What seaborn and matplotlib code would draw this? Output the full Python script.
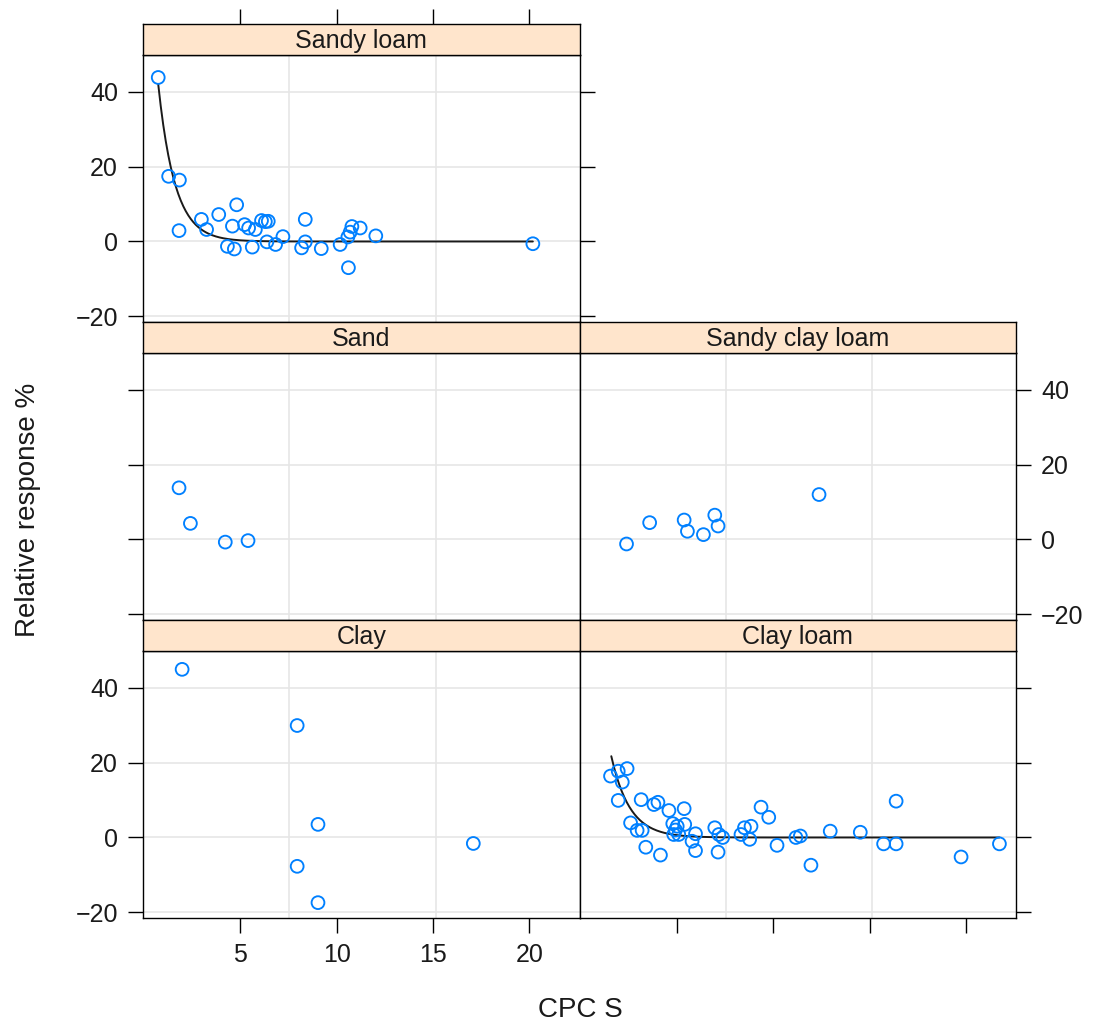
import numpy as np
import matplotlib
matplotlib.use("Agg")
import matplotlib.pyplot as plt
import seaborn as sns

# Data (CPC S vs relative response %)
sandy_loam_x = [0.74, 1.28, 1.84, 1.82, 2.98, 3.25, 3.88, 4.81, 4.59, 4.33, 4.69,
                5.22, 5.43, 5.78, 5.62, 6.10, 6.30, 6.45, 6.38, 6.83, 7.21, 8.37,
                8.18, 8.37, 9.20, 10.18, 10.61, 10.58, 10.70, 10.79, 11.22, 12.03, 20.18]
sandy_loam_y = [43.8, 17.4, 16.4, 2.9, 5.9, 3.2, 7.2, 9.8, 4.1, -1.3, -2.0,
                4.5, 3.6, 3.2, -1.5, 5.6, 5.3, 5.4, -0.1, -0.8, 1.3, 5.9,
                -1.7, -0.1, -1.9, -0.8, -7.0, 1.2, 2.5, 4.0, 3.6, 1.5, -0.6]

sand_x = [1.82, 2.41, 4.22, 5.40]
sand_y = [13.8, 4.3, -0.7, -0.3]

sandy_clay_loam_x = [2.39, 3.59, 5.38, 5.55, 6.38, 6.97, 7.14, 12.38]
sandy_clay_loam_y = [-1.2, 4.5, 5.2, 2.2, 1.3, 6.5, 3.6, 12.0]

clay_x = [1.98, 7.95, 9.03, 7.95, 9.03, 17.09]
clay_y = [44.9, 29.9, 3.5, -7.7, -17.4, -1.6]

clay_loam_x = [1.56, 1.96, 2.42, 2.17, 1.96, 2.60, 2.94, 3.20, 3.15, 3.81, 4.02,
               3.39, 4.15, 4.59, 5.38, 4.79, 5.02, 4.93, 5.10, 4.84, 5.41, 5.97,
               5.79, 5.97, 6.97, 7.18, 7.38, 7.14, 8.33, 8.51, 8.85, 8.78, 9.37,
               9.77, 10.20, 11.18, 11.41, 11.96, 12.96, 14.52, 15.73, 16.38, 16.38,
               19.75, 21.74]
clay_loam_y = [16.4, 17.7, 18.4, 14.8, 9.9, 3.9, 1.9, 1.9, 10.1, 8.8, 9.4,
               -2.6, -4.7, 7.2, 7.7, 3.7, 3.0, 2.0, 0.8, 0.8, 3.5, 1.0,
               -1.0, -3.5, 2.6, 0.8, 0.0, -3.9, 0.8, 2.6, 3.0, -0.5, 8.1,
               5.4, -2.1, 0.0, 0.4, -7.4, 1.7, 1.4, -1.7, -1.7, 9.7,
               -5.2, -1.7]

# exponential fits (start x, start y, decay rate, end x)
sandy_loam_fit = (0.74, 42.0, 1.15, 20.18)
clay_loam_fit = (1.60, 21.7, 1.04, 21.74)

x_ticks = [5, 10, 15, 20]
y_ticks = [-20, 0, 20, 40]
x_grid = [7.55, 15.15]

sns.set_theme(style="white")
plt.rcParams['font.family'] = ['Liberation Sans', 'DejaVu Sans']
plt.rcParams['text.color'] = '#1a1a1a'
plt.rcParams['xtick.labelcolor'] = '#1a1a1a'
plt.rcParams['ytick.labelcolor'] = '#1a1a1a'

W, H = 1097, 1028
fig = plt.figure(figsize=(W / 100, H / 100), dpi=100)


def box(x0, y0, w, h):
    return [x0 / W, 1 - (y0 + h) / H, w / W, h / H]


col_left = [143, 579.5]
col_w = 436.5
row_top = [24, 322, 620]
strip_h = 31
cell_h = 298
xlim = (-0.05, 22.6)
ylim = (-21.5, 49.8)

blue = '#0080ff'
strip_col = '#ffe5cc'
fs = 18

# name, row, col, x, y, fit, tick settings
panels = [
    ("Sandy loam", 0, 0, sandy_loam_x, sandy_loam_y, sandy_loam_fit,
     dict(left=True, labelleft=True, right=True, labelright=False, bottom=False, labelbottom=False)),
    ("Sand", 1, 0, sand_x, sand_y, None,
     dict(left=True, labelleft=False, right=False, labelright=False, bottom=False, labelbottom=False)),
    ("Sandy clay loam", 1, 1, sandy_clay_loam_x, sandy_clay_loam_y, None,
     dict(left=False, labelleft=False, right=True, labelright=True, bottom=False, labelbottom=False)),
    ("Clay", 2, 0, clay_x, clay_y, None,
     dict(left=True, labelleft=True, right=False, labelright=False, bottom=True, labelbottom=True)),
    ("Clay loam", 2, 1, clay_loam_x, clay_loam_y, clay_loam_fit,
     dict(left=False, labelleft=False, right=True, labelright=False, bottom=True, labelbottom=False)),
]

for name, r, c, xs, ys, fit, tk in panels:
    x0 = col_left[c]
    top = row_top[r]
    ax = fig.add_axes(box(x0, top + strip_h, col_w, cell_h - strip_h))
    ax.set_facecolor('white')
    for gx in x_grid:
        ax.axvline(gx, color='#e6e6e6', lw=1.2, zorder=0)
    for gy in y_ticks:
        ax.axhline(gy, color='#e6e6e6', lw=1.2, zorder=0)

    if fit is not None:
        xs0, ys0, k, xe = fit
        fx = np.linspace(xs0, xe, 300)
        fy = ys0 * np.exp(-k * (fx - xs0))
        sns.lineplot(x=fx, y=fy, ax=ax, color='#1a1a1a', lw=1.4, zorder=2)

    sns.scatterplot(x=xs, y=ys, ax=ax, marker='o', s=85, facecolors='none',
                    edgecolors=blue, linewidth=1.35, zorder=3)

    ax.set_xlim(*xlim)
    ax.set_ylim(*ylim)
    ax.set_xticks(x_ticks)
    ax.set_yticks(y_ticks)
    ax.set_xlabel('')
    ax.set_ylabel('')
    ax.tick_params(direction='out', length=11, width=1.0, color='black',
                   labelsize=fs, pad=7, top=False, labeltop=False, **tk)
    for sp in ax.spines.values():
        sp.set_color('black')
        sp.set_linewidth(1.0)
        sp.set_visible(True)

    # strip
    sax = fig.add_axes(box(x0, top, col_w, strip_h))
    sax.set_facecolor(strip_col)
    sax.set_xlim(*xlim)
    sax.set_yticks([])
    sax.set_xticks(x_ticks if r == 0 else [])
    sax.tick_params(axis='x', direction='out', length=11, width=1.0, color='black',
                    bottom=False, labelbottom=False, top=(r == 0), labeltop=False)
    for sp in sax.spines.values():
        sp.set_color('black')
        sp.set_linewidth(1.0)
        sp.set_visible(True)
    sax.text(0.5, 0.45, name, transform=sax.transAxes, ha='center', va='center',
             fontsize=fs, color='#1a1a1a')

fig.text(28 / W, 1 - 510 / H, 'Relative response %', rotation=90,
         ha='center', va='center', fontsize=20)
fig.text(580 / W, 1 - 1010 / H, 'CPC S', ha='center', va='center', fontsize=20)

fig.savefig('out.png', dpi=100)
